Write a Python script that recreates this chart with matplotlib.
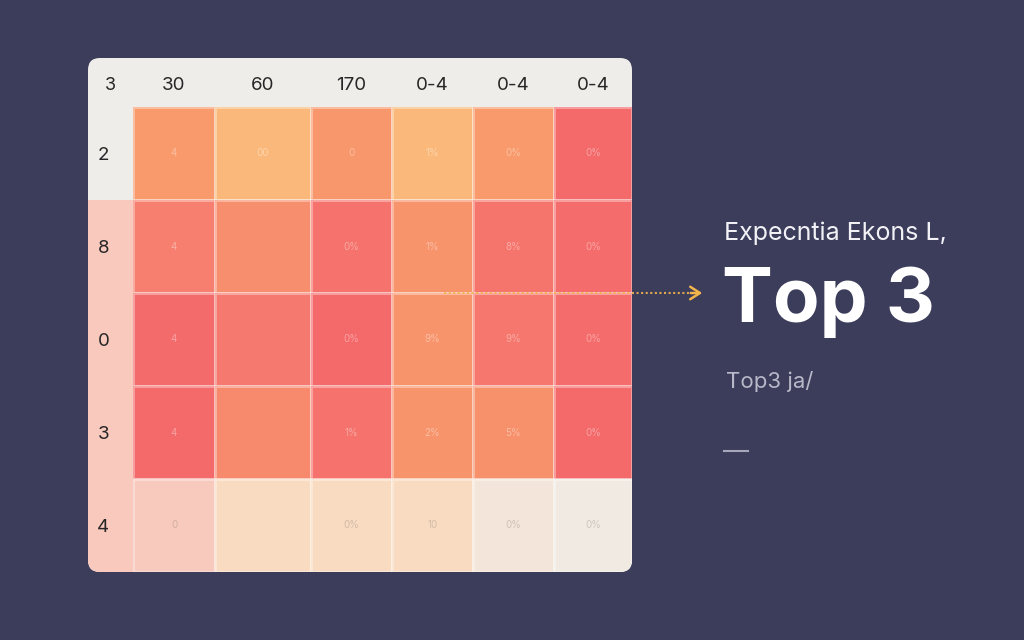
"""Heatmap card with a 'Top 3' callout on a dark slate background."""
import matplotlib
matplotlib.use('Agg')
import matplotlib.pyplot as plt
import numpy as np
from matplotlib.colors import LinearSegmentedColormap
from matplotlib.patches import FancyBboxPatch, Rectangle

plt.rcParams['font.family'] = ['Inter', 'DejaVu Sans']

BG = '#3b3d5b'; CARD = '#efedea'; PINK = '#f9c9bd'
INK = '#262626'; GOLD = '#f2b44c'; SUB = '#b7b8c8'

# ---- data ----
corner_label = '3'
col_labels = ['30', '60', '170', '0-4', '0-4', '0-4']
row_labels = ['2', '8', '0', '3', '4']
values = np.array([
    [0.58, 0.40, 0.60, 0.40, 0.58, 0.97],
    [0.76, 0.66, 0.88, 0.62, 0.86, 0.95],
    [0.96, 0.82, 0.98, 0.62, 0.84, 0.95],
    [0.97, 0.68, 0.88, 0.62, 0.64, 0.97],
    [0.14, 0.22, 0.22, 0.22, 0.08, 0.02],
])
cell_text = [
    ['4', '00', '0', '1%', '0%', '0%'],
    ['4', '', '0%', '1%', '8%', '0%'],
    ['4', '', '0%', '9%', '9%', '0%'],
    ['4', '', '1%', '2%', '5%', '0%'],
    ['0', '', '0%', '10', '0%', '0%'],
]
subtitle = 'Expecntia Ekons L,'
headline = 'Top 3'
caption = 'Top3 ja/'

# ---- layout (pixels) ----
W, H = 1024, 640
CARD_BOX = (88, 58, 544, 514)
LABEL_W = 45
HEAD_H = 49
COL_W = [82, 96, 81, 81, 81, 78]

cmap = LinearSegmentedColormap.from_list('warm', [
    (0.00, '#f0ebe6'), (0.08, '#f4e5da'), (0.14, '#f8c8bc'),
    (0.22, '#f9dbc1'), (0.40, '#fab97a'), (0.58, '#f89a6b'),
    (0.75, '#f6806f'), (1.00, '#f4676a')])

fig = plt.figure(figsize=(W / 100, H / 100), dpi=100, facecolor=BG)

# background canvas in pixel coordinates
bg = fig.add_axes([0, 0, 1, 1], zorder=0)
bg.set_xlim(0, W); bg.set_ylim(H, 0); bg.axis('off')
cx, cy, cw, ch = CARD_BOX
card = FancyBboxPatch((cx, cy), cw, ch, boxstyle='round,pad=0,rounding_size=12',
                      fc=CARD, ec='none')
bg.add_patch(card)
pink = Rectangle((cx, cy + HEAD_H + 93), LABEL_W, ch - HEAD_H - 93, fc=PINK, ec='none')
bg.add_patch(pink)
pink.set_clip_path(card)
bg.text(cx + LABEL_W / 2, cy + HEAD_H / 2 + 3, corner_label, ha='center', va='center',
        fontsize=13, color=INK)

# heatmap
hx = cx + LABEL_W
hy = cy + HEAD_H
hw = sum(COL_W)
hh = ch - HEAD_H
ax = fig.add_axes([hx / W, (H - hy - hh) / H, hw / W, hh / H], zorder=1)
ax.set_facecolor('none')
x_edges = np.concatenate([[0], np.cumsum(COL_W)])
y_edges = np.arange(len(row_labels) + 1)
mesh = ax.pcolormesh(x_edges, y_edges, values, cmap=cmap, vmin=0, vmax=1,
                     edgecolors=(1, 1, 1, 0.35), linewidth=0.8)
mesh.set_clip_path(card)
ax.set_xlim(0, hw); ax.set_ylim(len(row_labels), 0)
xc = (x_edges[:-1] + x_edges[1:]) / 2
ax.xaxis.tick_top()
ax.set_xticks(xc)
ax.set_xticklabels(col_labels, fontsize=13.5, color=INK)
ax.set_yticks(np.arange(len(row_labels)) + 0.5)
ax.set_yticklabels(row_labels, fontsize=13.5, color=INK)
ax.tick_params(axis='x', length=0, pad=9)
ax.tick_params(axis='y', length=0, pad=17)
for s in ax.spines.values():
    s.set_visible(False)
for r, row in enumerate(cell_text):
    for c, t in enumerate(row):
        col = (1, 1, 1, 0.38) if values[r, c] > 0.3 else (0.6, 0.55, 0.5, 0.4)
        ax.text(xc[c], r + 0.5, t, ha='center', va='center', fontsize=7, color=col)

# callout arrow, on top of the heatmap
top = fig.add_axes([0, 0, 1, 1], zorder=2)
top.set_xlim(0, W); top.set_ylim(H, 0); top.axis('off')
top.plot([444, 700], [293, 293], ls=(0, (1, 1.2)), color=GOLD, lw=1.5, alpha=0.9)
top.annotate('', xy=(705, 293), xytext=(688, 293),
             arrowprops=dict(arrowstyle='->,head_length=0.7,head_width=0.45',
                             color=GOLD, lw=1.8))

# right-hand text
top.text(724, 233, subtitle, ha='left', va='center', fontsize=18, color='#f2f2f6')
top.text(722, 322, headline, ha='left', va='baseline', fontsize=55, color='white',
         fontweight='bold')
top.text(726, 388, caption, ha='left', va='baseline', fontsize=16, color=SUB)
top.plot([724, 748], [451, 451], color='#a6a7ba', lw=1.5)

fig.savefig('out.png', dpi=100, facecolor=BG)
